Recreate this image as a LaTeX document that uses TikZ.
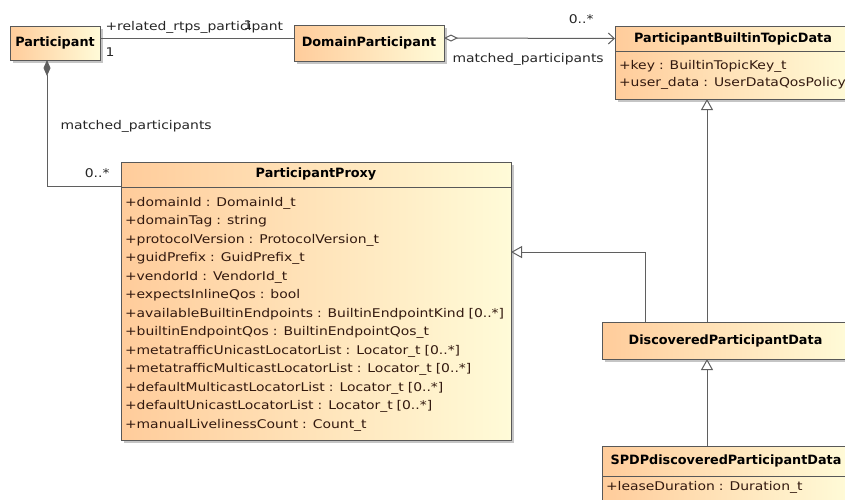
\documentclass[tikz,border=0pt]{standalone}
\usepackage{fontspec}
\setmainfont{DejaVu Sans}[FakeStretch=1.16]
\newfontfamily\classfont{DejaVu Sans}
\usetikzlibrary{arrows.meta,shadows}

\definecolor{umlOrange}{RGB}{255,204,155}
\definecolor{umlCream}{RGB}{255,251,216}
\definecolor{umlBorder}{RGB}{88,88,88}
\definecolor{umlText}{RGB}{50,25,15}
\definecolor{umlLine}{RGB}{95,95,95}

\begin{document}
\begin{tikzpicture}[x=1pt, y=-1pt,
    box/.style={draw=umlBorder, line width=1pt, left color=umlOrange, right color=umlCream,
        drop shadow={shadow xshift=3pt, shadow yshift=-3pt, fill=black!45},
        anchor=north west, inner sep=0pt, outer sep=0pt},
    title/.style={box, font=\classfont\fontsize{12.8}{15}\selectfont\bfseries, text=black},
    attrs/.style={box, font=\fontsize{12}{18.5}\selectfont, text=umlText, align=left, inner xsep=4pt},
    conn/.style={draw=umlLine, line width=1pt},
    lbl/.style={font=\fontsize{12}{14}\selectfont, text=black!85, inner sep=0pt},
    gen/.style={conn, -{Triangle[length=11pt, width=12pt, fill=white]}}
]
    \useasboundingbox (0,0) rectangle (845,499);

    % classes
    \node[title, minimum width=90, minimum height=34] (participant) at (10,26) {Participant};
    \node[title, minimum width=150, minimum height=36] (domain) at (294,25) {DomainParticipant};

    \node[title, minimum width=236, minimum height=25] (pbtdTitle) at (615,26) {ParticipantBuiltinTopicData};
    \node[attrs, text width=228, minimum height=48, font=\fontsize{12}{17.5}\selectfont] (pbtdAttr) at (615,51)
        {+key : BuiltinTopicKey\_t\\+user\_data : UserDataQosPolicy};

    \node[title, minimum width=390, minimum height=25] (ppTitle) at (121,162) {ParticipantProxy};
    \node[attrs, text width=382, minimum height=248, text depth=224pt, inner ysep=10pt] (ppAttr) at (121,187)
        {+domainId : DomainId\_t\\
         +domainTag : string\\
         +protocolVersion : ProtocolVersion\_t\\
         +guidPrefix : GuidPrefix\_t\\
         +vendorId : VendorId\_t\\
         +expectsInlineQos : bool\\
         +availableBuiltinEndpoints : BuiltinEndpointKind [0..*]\\
         +builtinEndpointQos : BuiltinEndpointQos\_t\\
         +metatrafficUnicastLocatorList : Locator\_t [0..*]\\
         +metatrafficMulticastLocatorList : Locator\_t [0..*]\\
         +defaultMulticastLocatorList : Locator\_t [0..*]\\
         +defaultUnicastLocatorList : Locator\_t [0..*]\\
         +manualLivelinessCount : Count\_t};

    \node[title, minimum width=247, minimum height=37] (dpd) at (602,322) {DiscoveredParticipantData};

    \node[title, minimum width=248, minimum height=30] (spdpTitle) at (602,446) {SPDPdiscoveredParticipantData};
    \node[attrs, text width=240, inner ysep=5pt, text depth=30pt] (spdpAttr) at (602,476)
        {+leaseDuration : Duration\_t};

    % associations
    \draw[conn] ([yshift=5pt]participant.east) -- ([yshift=5pt]domain.west)
        node[lbl, pos=0, anchor=base west, xshift=5pt, yshift=7.5pt] {+related\_rtps\_participant}
        node[lbl, pos=0, anchor=base west, xshift=5pt, yshift=-18.5pt] {1}
        node[lbl, pos=1, anchor=base east, xshift=-41pt, yshift=8.5pt] {1};
    \draw[conn, {Diamond[length=14pt, width=7pt, fill=white]}-{Straight Barb[length=6pt, width=11pt]}]
        ([yshift=5pt]domain.east) -- (pbtdTitle.west)
        node[lbl, pos=0, anchor=base west, xshift=8pt, yshift=-24pt] {matched\_participants}
        node[lbl, pos=1, anchor=base east, xshift=-21pt, yshift=15.5pt] {0..*};
    \draw[conn, {Diamond[length=16pt, width=7pt]}-]
        ([xshift=37pt]participant.south west) |- ([yshift=1pt]ppTitle.south west)
        node[lbl, pos=0.25, anchor=base west, xshift=13pt, yshift=-6pt] {matched\_participants}
        node[lbl, pos=1, anchor=base east, xshift=-11pt, yshift=9pt] {0..*};

    % generalizations
    \draw[gen] ([xshift=43pt]dpd.north west) |- ([yshift=61.5pt]ppAttr.east);
    \draw[gen] ([xshift=105pt]dpd.north west) -- ([xshift=92pt]pbtdAttr.south west);
    \draw[gen] ([xshift=105pt]spdpTitle.north west) -- ([xshift=105pt]dpd.south west);
\end{tikzpicture}
\end{document}
